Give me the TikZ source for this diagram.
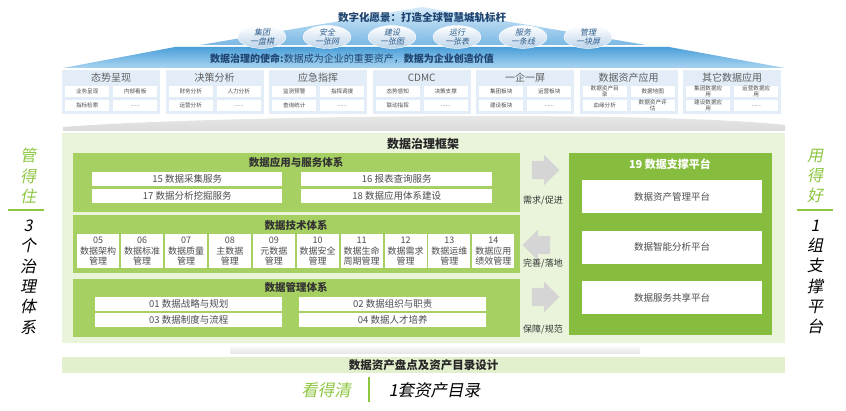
\documentclass[tikz,border=0pt]{standalone}
\usepackage{fontspec}
\setmainfont{Noto Sans CJK SC}
\newfontfamily\slcjk[FakeSlant=0.2]{Noto Sans CJK SC}
\usepackage{xcolor}
\definecolor{navy}{HTML}{1F4470}
\definecolor{roofhi}{HTML}{D6EAF8}
\definecolor{roofmid}{HTML}{7AB8E4}
\definecolor{bandtop}{HTML}{4B9FD9}
\definecolor{bandbot}{HTML}{A9D4F0}
\definecolor{ovaltxt}{HTML}{2D5E8C}
\definecolor{ovalfill}{HTML}{BCD4EA}
\definecolor{panelblue}{HTML}{E2EDF7}
\definecolor{txtgray}{HTML}{4D4D4D}
\definecolor{shadowgray}{HTML}{DADADA}
\definecolor{framelight}{HTML}{EAF4DB}
\definecolor{blkgreen}{HTML}{A6D061}
\definecolor{platgreen}{HTML}{86BD3F}
\definecolor{sidegreen}{HTML}{8DC63F}
\definecolor{arrowgray}{HTML}{D5D5D5}
\definecolor{bandgreen}{HTML}{E3F0CD}
\usetikzlibrary{positioning,shapes.geometric,shapes.arrows}
\tikzset{
  oval/.style    ={ellipse,minimum width=48,minimum height=21,inner sep=0pt,
                   top color=white,bottom color=ovalfill,draw=white,
                   text=ovaltxt,font=\slcjk\fontsize{8}{8.8}\selectfont,align=center},
  panel/.style   ={fill=panelblue,minimum width=98,minimum height=44,
                   inner sep=0pt,anchor=north west},
  ptitle/.style  ={font=\fontsize{10}{11}\selectfont,text=txtgray!90,inner sep=0pt},
  cell/.style    ={fill=white,minimum width=44,minimum height=11,inner sep=0pt,
                   anchor=north west,font=\fontsize{5.6}{5.8}\selectfont,
                   text=txtgray,align=center},
  blk/.style     ={fill=blkgreen,inner sep=0pt,anchor=north west},
  btitle/.style  ={font=\bfseries\fontsize{10.5}{11}\selectfont,text=black!80,inner sep=0pt},
  cellw/.style   ={fill=white,minimum height=14,inner sep=0pt,anchor=north west,
                   font=\fontsize{9.5}{10}\selectfont,text=txtgray},
  techcell/.style={fill=white,minimum width=42,minimum height=34,inner sep=0pt,
                   anchor=north west,font=\fontsize{9}{10.8}\selectfont,
                   text=txtgray,align=center},
  platbox/.style ={fill=white,minimum width=180,minimum height=33,inner sep=0pt,
                   anchor=north west,font=\fontsize{9.5}{10}\selectfont,text=txtgray},
  garrow/.style  ={single arrow,fill=arrowgray,draw=none,minimum height=23,
                   inner sep=9pt,single arrow head extend=6pt},
  lbl/.style     ={font=\fontsize{9}{9.5}\selectfont,text=black!80,inner sep=0pt},
  sidetxt/.style ={font=\slcjk\fontsize{16}{20.3}\selectfont,align=center,inner sep=0pt},
  sideline/.style={draw=sidegreen,line width=1.8pt},
}
\newcommand{\moredots}{......}

\begin{document}
\begin{tikzpicture}[x=1pt,y=-1pt]
\useasboundingbox (0,0) rectangle (846,411);

% ---- roof and mission band
\shade[top color=roofhi,bottom color=roofmid] (422,7) -- (646,45) -- (200,45) -- cycle;
\shade[top color=bandtop,bottom color=bandbot] (63,68) -- (175,47) -- (669,47) -- (785,68) -- cycle;
\node[font=\bfseries\fontsize{10.5}{11}\selectfont,text=navy] (vision) at (422,18)
 {数字化愿景：打造全球智慧城轨标杆};
\foreach \x/\a/\b [count=\i] in {262/集团/一盘棋, 327/安全/一张网, 392/建设/一张图,
                                457/运行/一张表, 523/服务/一条线, 588/管理/一块屏}
  \node[oval] (v\i) at (\x,37) {\a\\\b};
\node[font=\fontsize{10}{11}\selectfont,text=navy] (mission) at (352,59)
 {\textbf{数据治理的使命:}数据成为企业的重要资产，\textbf{数据为企业创造价值}};

% ---- application modules
\foreach \t/\a/\b/\c/\d [count=\i] in {
    态势呈现/业务呈现/内部看板/指标检索/\moredots,
    决策分析/财务分析/人力分析/运营分析/\moredots,
    应急指挥/监测预警/指挥调度/查询统计/\moredots,
    CDMC/态势感知/决策支撑/联动指挥/\moredots,
    一企一屏/集团板块/运营板块/建设板块/\moredots,
    数据资产应用/数据资产目\\录/数据地图/血缘分析/数据资产评\\估,
    其它数据应用/集团数据应\\用/运营数据应\\用/建设数据应\\用/\moredots}{
  \node[panel] (p\i) at ({62+103.5*(\i-1)},70) {};
  \node[ptitle] (pt\i) at ([yshift=-8pt]p\i.north) {\t};
  \node[cell] (p\i-a) at ([xshift=3pt,yshift=-16pt]p\i.north west) {\a};
  \node[cell] (p\i-b) at ([xshift=51pt,yshift=-16pt]p\i.north west) {\b};
  \node[cell] (p\i-c) at ([xshift=3pt,yshift=-30pt]p\i.north west) {\c};
  \node[cell] (p\i-d) at ([xshift=51pt,yshift=-30pt]p\i.north west) {\d};
}
\shade[top color=shadowgray!50,bottom color=shadowgray] (63,131) -- (63,127)
  .. controls (200,116) and (650,110) .. (785,125) -- (785,131) -- cycle;

% ---- framework
\node[fill=framelight,minimum width=723,minimum height=210,inner sep=0pt,anchor=north west]
  (frame) at (62,133) {};
\node[font=\bfseries\fontsize{12}{13}\selectfont,text=black!85] (ftitle) at (423,144) {数据治理框架};

\node[blk,minimum width=447,minimum height=59] (app) at (73,153) {};
\node[btitle] (appt) at (296,162) {数据应用与服务体系};
\node[cellw,minimum width=190] (a15) at (92,172)  {15 数据采集服务};
\node[cellw,minimum width=191] (a16) at (301,172) {16 报表查询服务};
\node[cellw,minimum width=190] (a17) at (92,189)  {17 数据分析挖掘服务};
\node[cellw,minimum width=191] (a18) at (301,189) {18 数据应用体系建设};

\node[blk,minimum width=447,minimum height=58] (tech) at (73,215) {};
\node[btitle] (techt) at (296,225) {数据技术体系};
\foreach \n/\a/\b [count=\i] in {05/数据架构/管理, 06/数据标准/管理, 07/数据质量/管理,
    08/主数据/管理, 09/元数据/管理, 10/数据安全/管理, 11/数据生命/周期管理,
    12/数据需求/管理, 13/数据运维/管理, 14/数据应用/绩效管理}
  \node[techcell] (t\i) at ({77+43.9*(\i-1)},234) {\n\\\a\\\b};

\node[blk,minimum width=447,minimum height=58] (mgmt) at (73,279) {};
\node[btitle] (mgmtt) at (296,287) {数据管理体系};
\node[cellw,minimum width=187] (m01) at (95,297)  {01 数据战略与规划};
\node[cellw,minimum width=187] (m02) at (299,297) {02 数据组织与职责};
\node[cellw,minimum width=187] (m03) at (95,313)  {03 数据制度与流程};
\node[cellw,minimum width=187] (m04) at (299,313) {04 数据人才培养};

% ---- arrows between systems and platform
\node[garrow] (ar1) at (541,170) {};
\node[garrow,shape border rotate=180] (ar2) at (541,245) {};
\node[garrow] (ar3) at (541,297) {};
\node[lbl] (l1) at (543,201) {需求/促进};
\node[lbl] (l2) at (543,263) {完善/落地};
\node[lbl] (l3) at (543,330) {保障/规范};

% ---- platform
\node[fill=platgreen,minimum width=203,minimum height=182,inner sep=0pt,anchor=north west]
  (plat) at (569,153) {};
\node[font=\bfseries\fontsize{11}{12}\selectfont,text=white] (platt) at (670,164) {19 数据支撑平台};
\foreach \t [count=\i] in {数据资产管理平台,数据智能分析平台,数据服务共享平台}
  \node[platbox] (pb\i) at (582,{180+50.5*(\i-1)}) {\t};

% ---- side captions
\node[sidetxt,text=sidegreen] (lgood) at (28,176) {管\\得\\住};
\draw[sideline] (8,210) -- (44,210);
\node[sidetxt] (lsys) at (28,277) {3\\个\\治\\理\\体\\系};
\node[sidetxt,text=sidegreen] (rgood) at (815,176) {用\\得\\好};
\draw[sideline] (797,210) -- (833,210);
\node[sidetxt] (rplat) at (815,277) {1\\组\\支\\撑\\平\\台};

% ---- asset catalogue
\shade[top color=white,bottom color=shadowgray!70,middle color=shadowgray!40]
  (230,345) rectangle (640,354);
\node[fill=bandgreen,minimum width=723,minimum height=16,inner sep=0pt,anchor=north west,
      font=\bfseries\fontsize{11.5}{12}\selectfont,text=black!85] (inv) at (62,357)
  {数据资产盘点及资产目录设计};
\node[font=\slcjk\fontsize{16.5}{17}\selectfont,text=sidegreen] (see) at (326,390) {看得清};
\draw[sideline] (369,377) -- (369,402);
\node[font=\slcjk\fontsize{16.5}{17}\selectfont,anchor=west] (cat) at (385,390) {1套资产目录};
\end{tikzpicture}
\end{document}
